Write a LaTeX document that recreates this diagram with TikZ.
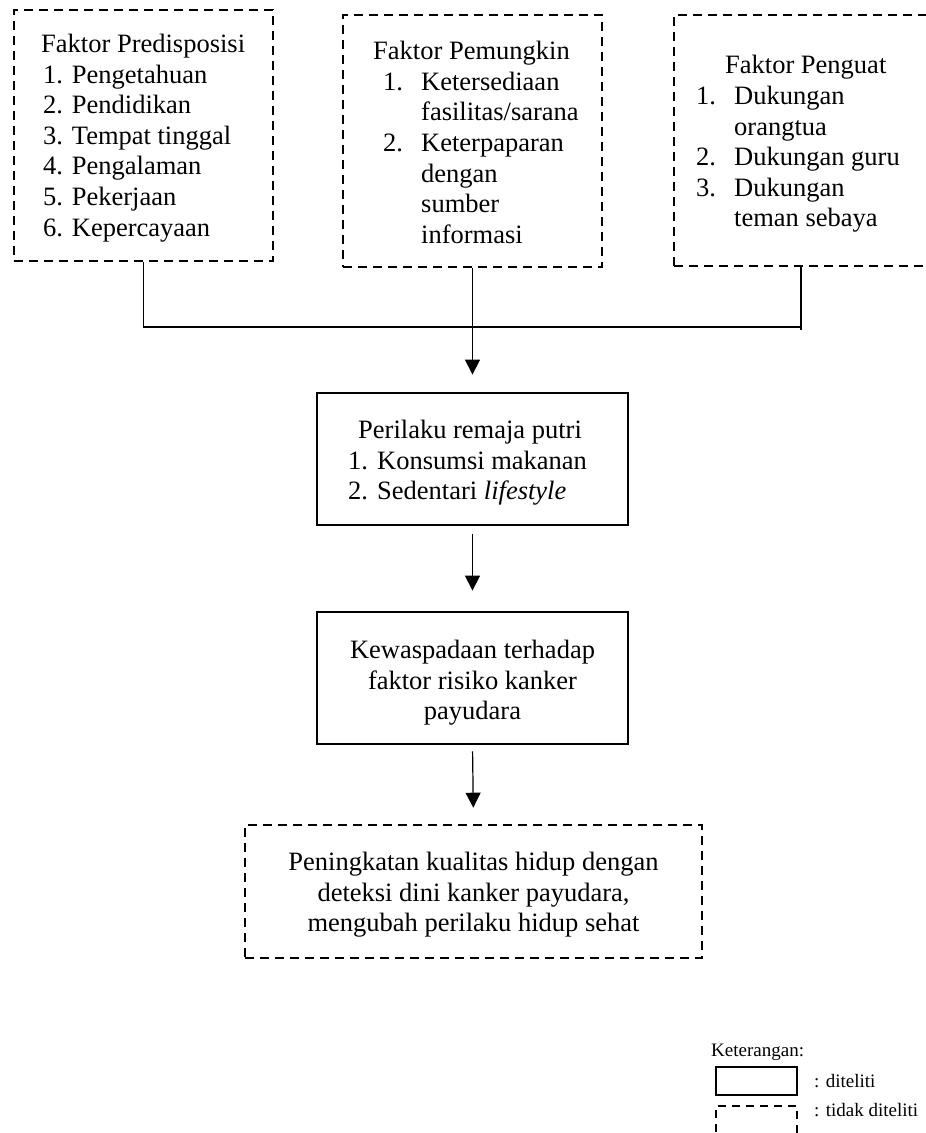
\documentclass[tikz,border=0pt]{standalone}
\usepackage{fontspec}
\setmainfont{Liberation Serif}
\usetikzlibrary{arrows.meta}
\newcommand{\itm}[2]{\makebox[#1][l]{#2}}
\begin{document}
\begin{tikzpicture}[x=1pt,y=-1pt,
  dbox/.style={draw, line width=2.6pt, dash pattern=on 9pt off 6pt, inner sep=0pt},
  sbox/.style={draw, line width=2.8pt, inner sep=0pt},
  txt/.style={inner sep=0pt, font=\fontsize{26.5}{30.6}\selectfont},
  ltxt/.style={inner sep=0pt, font=\fontsize{19}{23}\selectfont},
  conn/.style={line width=1.2pt},
  arr/.style={line width=1.2pt, -{Triangle[width=15pt,length=15pt]}}
]
\clip (0,0) rectangle (926,1133);
\fill[white] (0,0) rectangle (926,1133);

% boxes
\node[dbox, minimum width=259pt, minimum height=251pt] (b1) at (143.5,135.5) {};
\node[dbox, minimum width=259pt, minimum height=252pt] (b2) at (472.5,141) {};
\node[dbox, minimum width=286pt, minimum height=251pt] (b3) at (817,140.5) {};
\node[sbox, minimum width=311pt, minimum height=132pt] (b4) at (472.5,459) {};
\node[sbox, minimum width=311pt, minimum height=132pt] (b5) at (472.5,678) {};
\node[dbox, minimum width=457pt, minimum height=133pt] (b6) at (473.5,891.5) {};

% texts
\node[txt, anchor=west, align=left] (t1) at (41,138) {Faktor Predisposisi\\
\hspace*{2pt}1. Pengetahuan\\
\hspace*{2pt}2. Pendidikan\\
\hspace*{2pt}3. Tempat tinggal\\
\hspace*{2pt}4. Pengalaman\\
\hspace*{2pt}5. Pekerjaan\\
\hspace*{2pt}6. Kepercayaan};

\node[txt, anchor=west, align=left] (t2) at (373,142.5) {Faktor Pemungkin\\
\hspace*{10pt}\itm{38pt}{1.}Ketersediaan\\
\hspace*{48pt}fasilitas/sarana\\
\hspace*{10pt}\itm{38pt}{2.}Keterpaparan\\
\hspace*{48pt}dengan\\
\hspace*{48pt}sumber\\
\hspace*{48pt}informasi};

\node[txt, anchor=west, align=left] (t3) at (696,144) {\hspace*{29pt}Faktor Penguat\\
\itm{38pt}{1.}Dukungan\\
\hspace*{38pt}orangtua\\
\itm{38pt}{2.}Dukungan guru\\
\itm{38pt}{3.}Dukungan\\
\hspace*{38pt}teman sebaya};

\node[txt, anchor=west, align=left] (t4) at (348,463) {\hspace*{10pt}Perilaku remaja putri\\
\itm{29pt}{1.}Konsumsi makanan\\
\itm{29pt}{2.}Sedentari \textit{lifestyle}};

\node[txt, align=center] (t5) at (472.5,683) {Kewaspadaan terhadap\\ faktor risiko kanker\\ payudara};

\node[txt, align=center] (t6) at (473.5,895) {Peningkatan kualitas hidup dengan\\ deteksi dini kanker payudara,\\ mengubah perilaku hidup sehat};

% connectors
\coordinate (hl) at (143.5,327);
\coordinate (hr) at (801,327);
\coordinate (re) at (801,330);
\draw[conn] (b1.south) -- (hl) -- (hr);
\draw[conn] (b3.south -| re) -- (re);
\draw[arr, shorten >=17pt] (b2.south) -- (b4.north);
\draw[arr, shorten <=8pt, shorten >=20pt] (b4.south) -- (b5.north);
\draw[arr, shorten <=6pt, shorten >=16pt] (b5.south) -- (b6.north);

% legend
\node[ltxt, anchor=west] (k) at (711,1052) {Keterangan:};
\node[draw, line width=2.2pt, minimum width=81pt, minimum height=28pt, inner sep=0pt] (ls) at (756.5,1081) {};
\node[draw, line width=2.2pt, dash pattern=on 8pt off 6pt, minimum width=81pt, minimum height=44pt, inner sep=0pt] (ld) at (756.5,1128) {};
\node[ltxt, anchor=west] (l1) at (814,1081) {: diteliti};
\node[ltxt, anchor=west] (l2) at (814,1110) {: tidak diteliti};
\end{tikzpicture}
\end{document}
